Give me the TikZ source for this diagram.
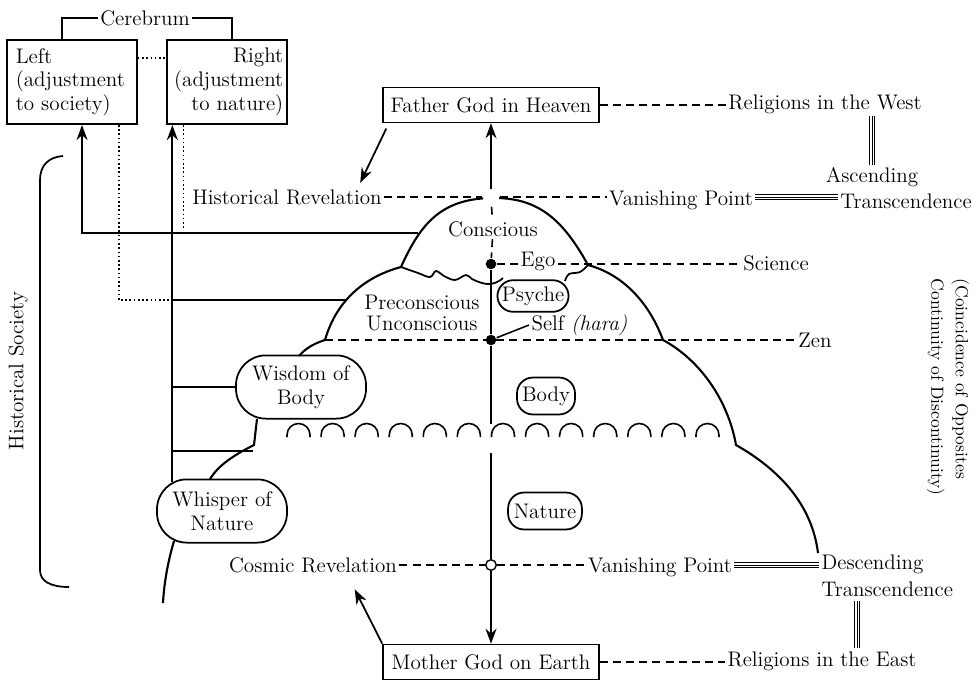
\documentclass[tikz,border=0pt]{standalone}
\usetikzlibrary{arrows.meta, positioning, calc}

\begin{document}
\begin{tikzpicture}[
    x=0.02cm, y=-0.02cm,
    font=\fontsize{12}{13.5}\selectfont,
    line width=0.9pt,
    lbl/.style={inner sep=1pt},
    godbox/.style={rectangle, draw, line width=0.8pt, minimum width=123pt, minimum height=20pt, inner sep=3pt},
    brainbox/.style={rectangle, draw, line width=1pt, minimum width=74pt, minimum height=48pt, text width=64pt, inner sep=4pt},
    blob/.style={draw, line width=1pt, rounded corners=9pt, inner sep=2.5pt, minimum height=18pt},
    bigblob/.style={draw, line width=1pt, rounded corners=17pt, align=center, minimum width=74pt, minimum height=36pt, inner sep=2pt},
    blackdot/.style={circle, fill, inner sep=0pt, minimum size=6pt},
    arrow/.style={-{Stealth[length=3mm, width=2.2mm]}, line width=1pt},
    dashline/.style={dash pattern=on 4.5pt off 3pt, line width=0.9pt},
    dotline/.style={dash pattern=on 0.9pt off 1.5pt, line width=0.8pt},
    tripline/.style={double distance=2.1pt, line width=0.5pt},
    midline/.style={line width=0.5pt},
    mound/.style={line width=1.2pt},
]
\useasboundingbox (0,0) rectangle (976,683);

% cerebrum
\node[lbl] (cereb) at (145,18) {Cerebrum};
\node[brainbox, align=left] (lbox) at (72,82) {Left\\(adjustment\\to society)};
\node[brainbox, align=right, minimum width=68pt, inner xsep=2pt] (rbox) at (227,82) {Right\\(adjustment\\to nature)};
\draw (cereb.west) -| ([xshift=-5.7pt]lbox.north);
\draw (cereb.east) -| ([xshift=2.8pt]rbox.north);
\draw[dotline] ([yshift=13.6pt]lbox.east) -- ([yshift=13.6pt]rbox.west);

% gods and religions
\node[godbox] (father) at (491,105) {Father God in Heaven};
\node[godbox] (mother) at (491,662) {Mother God on Earth};
\node[lbl] (westrel) at (825,104) {Religions in the West};
\node[lbl] (eastrel) at (822,661) {Religions in the East};
\draw[dashline] (father.east) -- (father.east -| westrel.west);
\draw[dashline] (mother.east) -- (mother.east -| eastrel.west);

% revelations and vanishing points
\node[lbl] (hist) at (287,197) {Historical Revelation};
\node[lbl] (vanup) at (681,200) {Vanishing Point};
\node[lbl] (ascA) at (872,177) {Ascending};
\node[lbl] (ascB) at (906,201) {Transcendence};
\node[lbl] (cosmic) at (313,565) {Cosmic Revelation};
\node[lbl] (vandown) at (660,567) {Vanishing Point};
\node[lbl, anchor=west] (descA) at (819,564) {Descending};
\node[lbl, anchor=west] (descB) at (819,589) {Transcendence};
\coordinate (tE1) at (857,601);
\coordinate (tE2) at (857,648);

\draw[tripline] (vanup.east |- hist.east) -- (ascB.west |- hist.east);
\draw[midline] (vanup.east |- hist.east) -- (ascB.west |- hist.east);
\draw[tripline] (ascA) -- (ascA |- westrel.south);
\draw[midline] (ascA) -- (ascA |- westrel.south);
\draw[tripline] (vandown.east |- cosmic.east) -- (descA.west |- cosmic.east);
\draw[midline] (vandown.east |- cosmic.east) -- (descA.west |- cosmic.east);
\draw[tripline] (tE1) -- (tE2);
\draw[midline] (tE1) -- (tE2);

% mountain
\draw[mound] (401,267) .. controls (420,225) and (440,199) .. (491,198)
    .. controls (537,197) and (562,218) .. (588,265)
    .. controls (625,275) and (650,305) .. (663,340)
    .. controls (700,360) and (728,400) .. (736,445)
    .. controls (780,470) and (812,505) .. (818,553);
\draw[mound] (401,267) .. controls (360,278) and (335,305) .. (325,340)
    .. controls (312,344) and (304,350) .. (299,356);
\draw[mound] (257,419) -- (254,445) .. controls (232,456) and (218,466) .. (210,479);
\draw[mound] (174,541) .. controls (167,565) and (164,585) .. (163,603);
\draw[line width=1pt] plot[smooth, tension=0.6] coordinates {(401,267) (418,273) (430,277) (436,271) (444,276) (455,280) (466,275) (472,279) (482,283) (491,284) (499,281) (503,278)};
\draw[line width=1pt] plot[smooth, tension=0.6] coordinates {(565,281) (569,274) (580,272) (588,265)};
\foreach \i in {0,...,12}
    \draw[line width=0.9pt] ({287+\i*34.08},437) -- ++(0,-2) arc[start angle=180, end angle=360, radius=11.5] -- ++(0,2);

\node[circle, fill=white, inner sep=0pt, minimum size=9pt] (vup) at (491,198) {};
\draw[dashline] (hist.east) -- (vup.west |- hist.east);
\draw[dashline] (vup.east |- hist.east) -- (vanup.west |- hist.east);

% inner labels
\node[lbl] (conscious) at (493,229) {Conscious};
\node[lbl] (ego) at (538,261) {Ego};
\node[lbl] (science) at (776,263) {Science};
\node[lbl] (zen) at (815,340) {Zen};
\node[lbl, align=center, font=\fontsize{12}{11.5}\selectfont] (precon) at (422,313) {Preconscious\\Unconscious};
\node[lbl, anchor=west] (self) at (529,325) {Self \textit{(hara)}};
\node[blob] (psyche) at (533,296) {Psyche};
\node[blob, minimum width=33pt, minimum height=21pt] (body) at (546,396) {Body};
\node[blob, minimum width=42pt, minimum height=21pt] (nature) at (545,511) {Nature};
\node[bigblob] (wisdom) at (301,387) {Wisdom of\\Body};
\node[bigblob] (whisper) at (222,511) {Whisper of\\Nature};
\node[blackdot] (egodot) at (491,264) {};
\node[blackdot] (selfdot) at (491,340) {};
\node[circle, draw, fill=white, inner sep=0pt, minimum size=6pt, line width=0.8pt] (vdown) at (491,565) {};
\coordinate (archtop) at (491,424);
\coordinate (vlow) at (491,453);
\coordinate (zenL) at (325,340);

\draw[dashline] (egodot) -- (egodot -| ego.west);
\draw[dashline] (egodot -| ego.east) -- (egodot -| science.west);
\draw[dashline] (zenL) -- (zenL -| zen.west);
\draw (selfdot) -- (self.west);
\draw[dashline] (cosmic.east |- vdown) -- (vdown);
\draw[dashline] (vdown) -- (vdown -| vandown.west);

% axis
\draw[arrow] (vup) -- (father);
\draw[dashline] (vup) -- (conscious);
\draw[dashline] (conscious) -- (egodot);
\draw (egodot) -- (selfdot) -- (archtop);
\draw (vlow) -- (vdown);
\draw[arrow] (vdown) -- (mother);
\draw[arrow] ([xshift=2.3pt, yshift=-3pt]father.south west) -- ([xshift=-13.6pt, yshift=2.3pt]hist.north east);
\draw[arrow] (mother.north west) -- ([xshift=-25.5pt, yshift=-8pt]cosmic.south east);

% society connectors
\coordinate (cL) at (418,233);
\coordinate (pL) at (347,300);
\coordinate (bL) at (253,451);
\coordinate (rx) at ([xshift=3.4pt]rbox.south west);
\coordinate (wtop) at ([yshift=-2pt]whisper.north);
\draw[arrow] (cL) -| ([xshift=5.7pt]lbox.south);
\draw[arrow] (rx |- wtop) -- (rx);
\draw (rx |- pL) -- (pL);
\draw (rx |- wisdom.west) -- (wisdom.west);
\draw (rx |- bL) -- (bL);
\draw[dotline] ([xshift=-10.8pt]lbox.south east) |- (rx |- pL);
\draw[dotline] ([xshift=9.6pt]rbox.south west) -- ++(0,104);

% side labels
\draw[line width=1pt] (63,156) .. controls (49,157) and (40,165) .. (40,180) -- (40,570)
    .. controls (40,581) and (50,587) .. (69,587);
\node[rotate=90] (histsoc) at (18,371) {Historical Society};
\node[rotate=-90, anchor=west, align=left, font=\fontsize{10}{14}\selectfont] (coinc) at (948,272) {(Coincidence of Opposites\\Continuity of Discontinuity)};

\end{tikzpicture}
\end{document}
